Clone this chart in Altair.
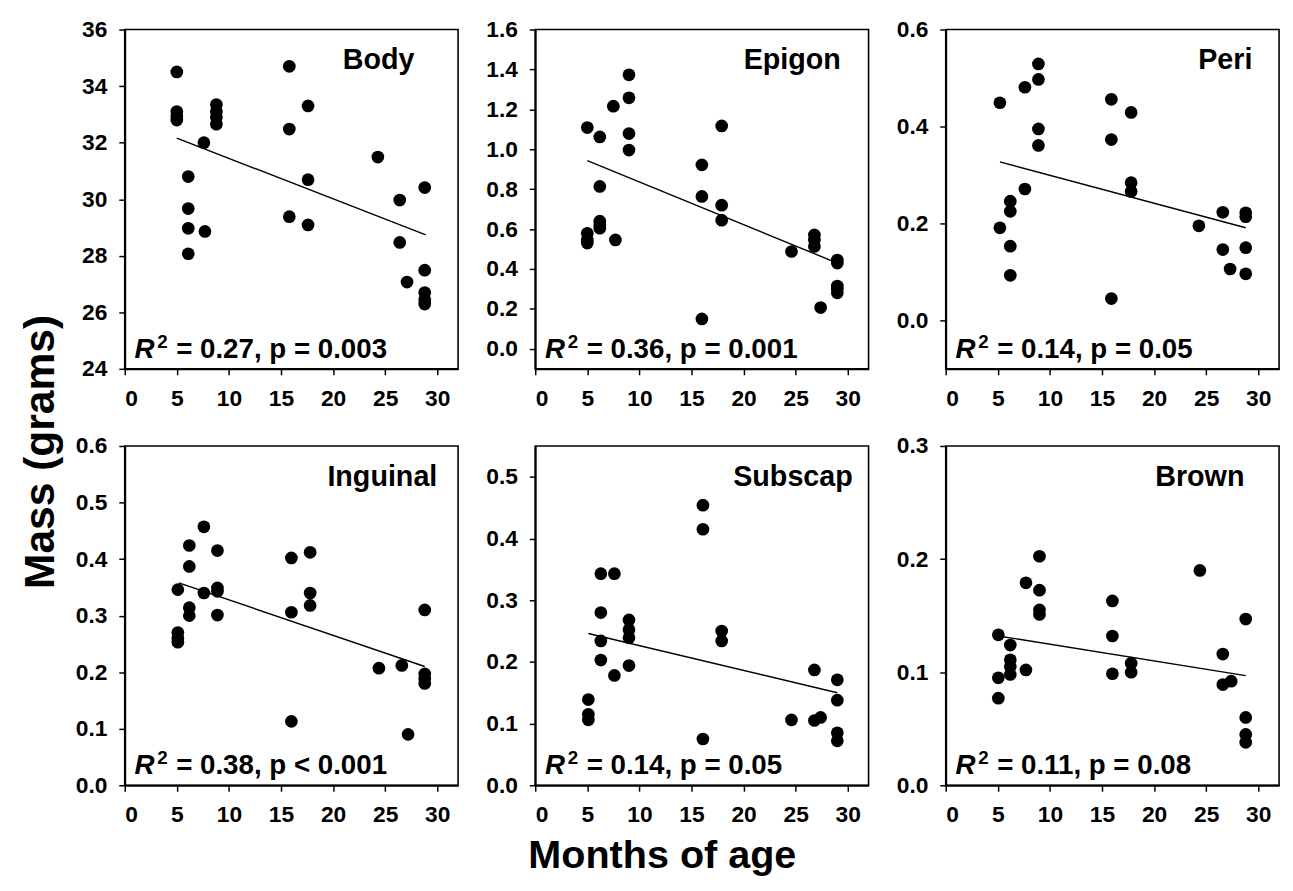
import altair as alt
import pandas as pd

FONT = "Liberation Sans"

panel_names = ["Body", "Epigon", "Peri", "Inguinal", "Subscap", "Brown"]
stats_text = ["= 0.27, p = 0.003", "= 0.36, p = 0.001", "= 0.14, p = 0.05",
              "= 0.38, p < 0.001", "= 0.14, p = 0.05", "= 0.11, p = 0.08"]

body_x = [5.0, 5.0, 5.0, 5.0, 6.1, 6.1, 6.1, 6.1, 7.6, 7.7, 8.8, 8.8, 8.8, 8.8,
          15.8, 15.8, 15.8, 17.6, 17.6, 17.6, 24.3, 26.4, 26.4, 27.1,
          28.8, 28.8, 28.8, 28.8, 28.8]
body_y = [34.5, 33.1, 32.95, 32.8, 30.8, 29.67, 28.97, 28.07, 32.0, 28.86,
          33.35, 33.1, 32.9, 32.65, 34.7, 32.48, 29.38, 33.3, 30.69, 29.09,
          31.49, 29.97, 28.47, 27.07, 30.41, 27.49, 26.7, 26.45, 26.29]

epigon_x = [5.0, 5.0, 5.0, 5.0, 6.2, 6.2, 6.2, 6.2, 6.2, 7.5, 7.7,
            9.0, 9.0, 9.0, 9.0, 16.0, 16.0, 16.0, 17.9, 17.9, 17.9, 24.6,
            26.8, 26.8, 26.8, 27.4, 29.0, 29.0, 29.0, 29.0, 29.0]
epigon_y = [1.109, 0.579, 0.545, 0.53, 1.062, 0.814, 0.64, 0.62, 0.605, 1.216, 0.546,
            1.373, 1.258, 1.079, 0.996, 0.922, 0.764, 0.15, 1.117, 0.72, 0.645, 0.488,
            0.571, 0.545, 0.513, 0.207, 0.445, 0.43, 0.315, 0.30, 0.281]

peri_x = [5.2, 5.2, 6.2, 6.2, 6.2, 6.2, 7.6, 7.6, 8.9, 8.9, 8.9, 8.9,
          15.9, 15.9, 15.9, 17.8, 17.8, 17.8, 24.3, 26.6, 26.6, 27.3,
          28.8, 28.8, 28.8, 28.8]
peri_y = [0.449, 0.191, 0.246, 0.225, 0.153, 0.093, 0.481, 0.271, 0.529, 0.497, 0.395, 0.361,
          0.456, 0.373, 0.045, 0.429, 0.284, 0.266, 0.195, 0.223, 0.146, 0.106,
          0.222, 0.214, 0.15, 0.096]

inguinal_x = [5.1, 5.1, 5.1, 5.1, 6.2, 6.2, 6.2, 6.2, 7.6, 7.6, 8.9, 8.9, 8.9, 8.9,
              16.0, 16.0, 16.0, 17.8, 17.8, 17.8, 24.4, 26.6, 27.2,
              28.8, 28.8, 28.8, 28.8]
inguinal_y = [0.346, 0.27, 0.26, 0.253, 0.424, 0.387, 0.314, 0.30, 0.457, 0.34,
              0.415, 0.349, 0.343, 0.301, 0.402, 0.306, 0.113, 0.412, 0.34, 0.318,
              0.207, 0.212, 0.09, 0.31, 0.197, 0.188, 0.18]

subscap_x = [5.1, 5.1, 5.1, 6.3, 6.3, 6.3, 6.3, 7.6, 7.6, 9.0, 9.0, 9.0, 9.0,
             16.1, 16.1, 16.1, 17.9, 17.9, 24.6, 26.8, 26.8, 27.4,
             29.0, 29.0, 29.0, 29.0]
subscap_y = [0.139, 0.115, 0.106, 0.343, 0.28, 0.234, 0.203, 0.343, 0.178,
             0.268, 0.252, 0.239, 0.194, 0.454, 0.415, 0.075, 0.25, 0.234,
             0.106, 0.187, 0.105, 0.11, 0.171, 0.138, 0.085, 0.072]

brown_x = [5.05, 5.05, 5.05, 6.2, 6.2, 6.2, 6.2, 7.7, 7.7, 9.0, 9.0, 9.0, 9.0,
           16.0, 16.0, 16.0, 17.8, 17.8, 24.4, 26.6, 26.6, 27.4,
           28.8, 28.8, 28.8, 28.8]
brown_y = [0.133, 0.095, 0.077, 0.124, 0.111, 0.105, 0.098, 0.179, 0.102,
           0.2025, 0.1725, 0.155, 0.151, 0.163, 0.132, 0.0986, 0.108, 0.100,
           0.19, 0.116, 0.089, 0.092, 0.147, 0.06, 0.045, 0.038]

fit_x = [[5.0, 28.9], [5.0, 29.0], [5.2, 28.8], [5.2, 28.8], [5.1, 29.0], [5.05, 28.8]]
fit_y = [[32.16, 28.74], [0.943, 0.43], [0.327, 0.191], [0.358, 0.21], [0.246, 0.15], [0.132, 0.097]]

x_ticks = [0, 5, 10, 15, 20, 25, 30]
y_domains = [[24, 36], [-0.1, 1.6], [-0.1, 0.6], [0, 0.6], [0, 0.55], [0, 0.3]]
y_ticks = [[24, 26, 28, 30, 32, 34, 36],
           [0.0, 0.2, 0.4, 0.6, 0.8, 1.0, 1.2, 1.4, 1.6],
           [0.0, 0.2, 0.4, 0.6],
           [0.0, 0.1, 0.2, 0.3, 0.4, 0.5, 0.6],
           [0.0, 0.1, 0.2, 0.3, 0.4, 0.5],
           [0.0, 0.1, 0.2, 0.3]]
y_formats = ["d", ".1f", ".1f", ".1f", ".1f", ".1f"]

all_x = [body_x, epigon_x, peri_x, inguinal_x, subscap_x, brown_x]
all_y = [body_y, epigon_y, peri_y, inguinal_y, subscap_y, brown_y]

# layout / style (pixels)
W, H = 337, 343
title_right = [44, 28, 27, 21, 16, 35]


def one(text):
    return pd.DataFrame({"t": [text]})


def panel(i):
    df = pd.DataFrame({"age": all_x[i], "mass": all_y[i]})
    fit = pd.DataFrame({"age": fit_x[i], "mass": fit_y[i]})
    xsc = alt.Scale(domain=[0, 32], nice=False, zero=False)
    ysc = alt.Scale(domain=y_domains[i], nice=False, zero=False)
    xax = alt.Axis(values=x_ticks, title=None, format="d")
    yax = alt.Axis(values=y_ticks[i], title=None, format=y_formats[i])
    pts = alt.Chart(df).mark_circle(size=165, color="black", opacity=1).encode(
        x=alt.X("age:Q", scale=xsc, axis=xax),
        y=alt.Y("mass:Q", scale=ysc, axis=yax),
    )
    line = alt.Chart(fit).mark_line(color="black", strokeWidth=1.4).encode(
        x="age:Q", y="mass:Q"
    )
    name = alt.Chart(one(panel_names[i])).mark_text(
        align="right", baseline="alphabetic", fontSize=29, fontWeight="bold", font=FONT, color="black"
    ).encode(text="t:N", x=alt.value(W - title_right[i]), y=alt.value(40))
    r = alt.Chart(one("R")).mark_text(
        align="left", baseline="alphabetic", fontSize=28, fontWeight="bold", fontStyle="italic", font=FONT, color="black"
    ).encode(text="t:N", x=alt.value(10), y=alt.value(H - 11))
    sup = alt.Chart(one("2")).mark_text(
        align="left", baseline="alphabetic", fontSize=19, fontWeight="bold", font=FONT, color="black"
    ).encode(text="t:N", x=alt.value(33), y=alt.value(H - 21))
    rest = alt.Chart(one(stats_text[i])).mark_text(
        align="left", baseline="alphabetic", fontSize=28, fontWeight="bold", font=FONT, color="black"
    ).encode(text="t:N", x=alt.value(52), y=alt.value(H - 11))
    layers = [line, pts, name, r, sup, rest]
    if i == 0:
        layers.append(alt.Chart(one("Mass (grams)")).mark_text(
            align="center", baseline="middle", angle=270, fontSize=43, fontWeight="bold", font=FONT, color="black"
        ).encode(text="t:N", x=alt.value(-84), y=alt.value(H + 84)))
    if i == 4:
        layers.append(alt.Chart(one("Months of age")).mark_text(
            align="center", baseline="middle", fontSize=40, fontWeight="bold", font=FONT, color="black"
        ).encode(text="t:N", x=alt.value(W / 2 - 40), y=alt.value(H + 72)))
    return alt.layer(*layers).properties(width=W, height=H)


chart = alt.concat(*[panel(i) for i in range(6)], columns=3, spacing=78, bounds="flush").properties(
    padding={"left": 12, "top": 5, "right": 5, "bottom": 0}
).resolve_scale(y="independent", x="independent").configure_view(
    stroke="black", strokeWidth=1.6
).configure_axis(
    grid=False, labelFont=FONT, labelFontSize=23, labelFontWeight="bold", labelColor="black",
    tickColor="black", tickSize=6, tickWidth=1.5, domainColor="black", domainWidth=2,
    labelPadding=4,
).configure_axisX(labelPadding=13).configure_axisY(labelPadding=12)

chart.save("out.html", embed_options={"renderer": "svg", "actions": False})
